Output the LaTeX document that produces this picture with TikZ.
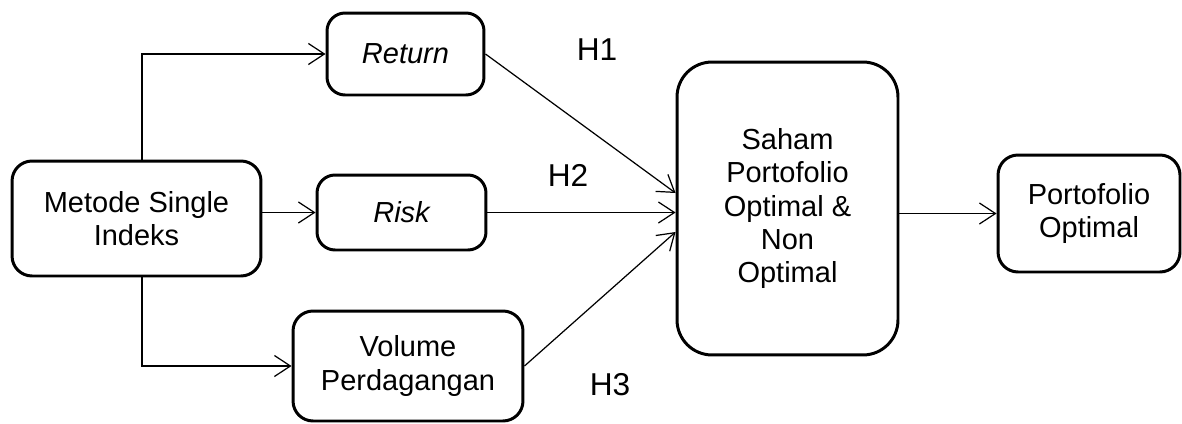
\documentclass[tikz,border=0pt]{standalone}
\usepackage{fontspec}
\setmainfont{Liberation Sans}
\usetikzlibrary{arrows.meta}

\begin{document}
\begin{tikzpicture}[x=0.02cm, y=-0.02cm, box/.style={draw, line width=1.7pt, rounded corners=0.4cm, align=center, inner sep=0pt, font=\fontsize{16.5}{18.8}\selectfont}, link/.style={line width=0.7pt, -{Straight Barb[length=0.32cm, width=0.42cm, line width=0.7pt]}}, hyp/.style={font=\fontsize{18}{20}\selectfont}]
\useasboundingbox (0,0) rectangle (1182,423);
\node[box, minimum width=4.98cm, minimum height=2.3cm] (metode) at (136.5,218.5) {Metode Single\\Indeks};
\node[box, rounded corners=0.36cm, minimum width=3.14cm, minimum height=1.64cm] (ret) at (405.5,54) {\itshape Return};
\node[box, rounded corners=0.36cm, minimum width=3.38cm, minimum height=1.5cm] (risk) at (401.5,212.5) {\itshape Risk};
\node[box, minimum width=4.6cm, minimum height=2.2cm] (volume) at (408,366) {Volume\\Perdagangan};
\node[box, rounded corners=0.7cm, minimum width=4.42cm, minimum height=5.86cm] (saham) at (787.5,208.5) {Saham\\Portofolio\\Optimal \&\\Non\\Optimal};
\node[box, minimum width=3.64cm, minimum height=2.34cm] (optimal) at (1089,213.5) {Portofolio\\Optimal};
\node[hyp] (h1) at (597,50) {H1};
\node[hyp] (h2) at (568,175) {H2};
\node[hyp] (h3) at (610,385) {H3};
\draw[link] ([xshift=0.11cm]metode.north) |- (ret.west);
\draw[link] (metode.east |- risk.west) -- (risk.west);
\draw[link] ([xshift=0.11cm]metode.south) |- (volume.west);
\draw[link] (ret.east) -- ([yshift=0.31cm]saham.west);
\draw[link] (risk.east) -- (saham.west |- risk.east);
\draw[link] (volume.east) -- ([yshift=-0.47cm]saham.west);
\draw[link] (saham.east |- optimal.west) -- (optimal.west);
\end{tikzpicture}
\end{document}
